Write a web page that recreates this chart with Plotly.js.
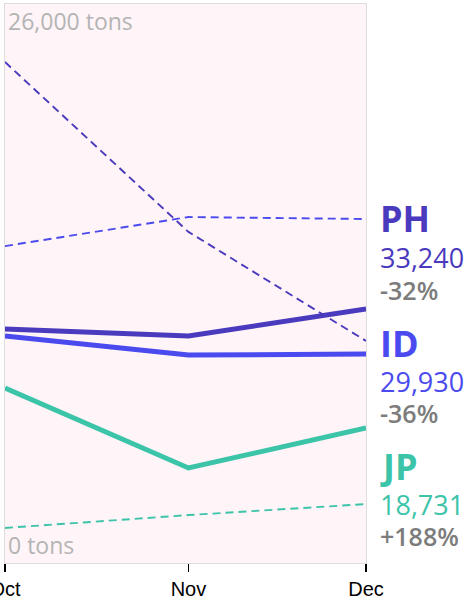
<!DOCTYPE html>
<html>
<head>
<meta charset="utf-8">
<script src="https://cdn.plot.ly/plotly-3.0.1.min.js"></script>
<style>html,body{margin:0;padding:0;background:#fff;}#chart{width:473px;height:604px;}</style>
</head>
<body>
<div id="chart"></div>
<script>
const months = ['2023-10-01', '2023-11-01', '2023-12-01'];
const countries = ['PH', 'ID', 'JP'];
const colors = ['#4a3abd', '#4a4aef', '#3cc4a9'];
const current = {
  PH: [10880, 10560, 11810],
  ID: [10560, 9670, 9720],
  JP: [8140, 4420, 6280]
};
const previous = {
  PH: [23300, 15400, 10330],
  ID: [14740, 16090, 16000],
  JP: [1630, 2230, 2740]
};
const latestValues = ['33,240', '29,930', '18,731'];
const changes = ['-32%', '-36%', '+188%'];
const yMax = 26000;
const yTickText = ['0 tons', '26,000 tons'];

const traces = [];
countries.forEach((c, i) => {
  traces.push({
    x: months, y: previous[c], type: 'scatter', mode: 'lines',
    line: {color: colors[i], width: 1.9, dash: '8px,5px'},
    hoverinfo: 'skip', showlegend: false
  });
});
countries.forEach((c, i) => {
  traces.push({
    x: months, y: current[c], type: 'scatter', mode: 'lines',
    line: {color: colors[i], width: 5},
    hoverinfo: 'skip', showlegend: false
  });
});

const labelFont = 'Open Sans, Noto Sans, sans-serif';
const labelY = [[0.617, 0.547, 0.488], [0.392, 0.324, 0.268], [0.172, 0.104, 0.048]];
const annotations = [];
countries.forEach((c, i) => {
  annotations.push({xref: 'paper', yref: 'paper', x: 1, y: labelY[i][0], xanchor: 'left', yanchor: 'middle', xshift: 12,
    text: '<b>' + c + '</b>', showarrow: false, font: {family: labelFont, size: 36, color: colors[i]}});
  annotations.push({xref: 'paper', yref: 'paper', x: 1, y: labelY[i][1], xanchor: 'left', yanchor: 'middle', xshift: 12,
    text: latestValues[i], showarrow: false, font: {family: labelFont, size: 27, color: colors[i]}});
  annotations.push({xref: 'paper', yref: 'paper', x: 1, y: labelY[i][2], xanchor: 'left', yanchor: 'middle', xshift: 12,
    text: changes[i], showarrow: false, font: {family: labelFont, size: 25, weight: 600, color: '#7c7c7c'}});
});
annotations.push({xref: 'paper', yref: 'paper', x: 0, y: 1, xanchor: 'left', yanchor: 'top', xshift: 1, yshift: 1,
  text: yTickText[1], showarrow: false, font: {family: labelFont, size: 23, color: '#b4b4b4'}});
annotations.push({xref: 'paper', yref: 'paper', x: 0, y: 0, xanchor: 'left', yanchor: 'bottom', xshift: 1, yshift: 0,
  text: yTickText[0], showarrow: false, font: {family: labelFont, size: 23, color: '#b4b4b4'}});

const layout = {
  width: 473, height: 604,
  margin: {l: 5, r: 107, t: 4, b: 41, pad: 0},
  paper_bgcolor: '#ffffff',
  plot_bgcolor: '#fff4f7',
  showlegend: false,
  xaxis: {
    type: 'date', range: [months[0], months[2]],
    tickvals: months, tickformat: '%b',
    ticks: 'outside', ticklen: 8, tickwidth: 1.5, tickcolor: '#000',
    ticklabeloverflow: 'allow',
    tickfont: {family: 'Liberation Sans, Arial, sans-serif', size: 20, color: '#000'},
    showgrid: false, zeroline: false,
    showline: true, linecolor: '#dddddd', linewidth: 1, mirror: true
  },
  yaxis: {
    range: [0, yMax], showticklabels: false, ticks: '',
    showgrid: false, zeroline: false,
    showline: true, linecolor: '#dddddd', linewidth: 1, mirror: true
  },
  annotations: annotations
};

Plotly.newPlot('chart', traces, layout, {displayModeBar: false, staticPlot: true});
</script>
</body>
</html>
